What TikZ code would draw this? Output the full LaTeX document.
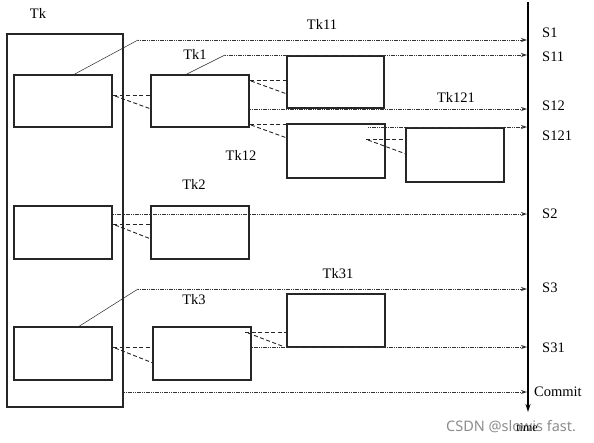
\documentclass[tikz,border=0pt]{standalone}
\usepackage{fontspec}
\setmainfont{Liberation Serif}
\newfontfamily\wmfont{Noto Sans}
\usetikzlibrary{arrows.meta}
\begin{document}
\begin{tikzpicture}[x=1pt,y=-1pt,
  box/.style={draw=black!85,line width=1.1pt},
  spawn/.style={draw=black!85,line width=0.9pt,dash pattern=on 4pt off 2.5pt},
  sync/.style={draw=black!80,line width=1pt,dash pattern=on 1.1pt off 0.7pt},
  syncarr/.style={sync,-{Stealth[length=6pt,width=4pt,fill=black!85]}},
  link/.style={draw=black!85,line width=0.5pt},
  lbl/.style={font=\fontsize{14.5}{16}\selectfont,inner sep=0pt},
  slbl/.style={lbl,anchor=west}]
\useasboundingbox (0,0) rectangle (594,442);
% outer Tk box
\draw[box] (7,34) rectangle (123,407);
\node[lbl] (tk) at (38,13) {Tk};
% inner boxes
\draw[box] (14,75) rectangle (112,127);
\draw[box] (14,206) rectangle (112,259);
\draw[box] (14,327) rectangle (112,380);
% children
\draw[box] (151,75) rectangle (249,127);
\draw[box] (151,206) rectangle (249,259);
\draw[box] (153,327) rectangle (251,380);
\draw[box] (287,56) rectangle (384,108);
\draw[box] (287,124) rectangle (385,178);
\draw[box] (406,128) rectangle (504,182);
\draw[box] (287,294) rectangle (385,347);
% time axis
\coordinate (ax0) at (528,2);
\coordinate (ax1) at (528,412);
\draw[line width=1.8pt,-{Stealth[length=8pt,width=5pt]}] (ax0) -- (ax1);
% labels
\node[lbl] (tk11) at (322,24) {Tk11};
\node[lbl] (tk1) at (195,54) {Tk1};
\node[lbl] (tk121) at (456,97) {Tk121};
\node[lbl] (tk12) at (241,155) {Tk12};
\node[lbl] (tk2) at (194,184) {Tk2};
\node[lbl] (tk31) at (338,274) {Tk31};
\node[lbl] (tk3) at (194,300) {Tk3};
\node[slbl] (s1) at (542,33) {S1};
\node[slbl] (s11) at (542,57) {S11};
\node[slbl] (s12) at (542,106) {S12};
\node[slbl] (s121) at (542,136) {S121};
\node[slbl] (s2) at (542,214) {S2};
\node[slbl] (s3) at (542,288) {S3};
\node[slbl] (s31) at (542,348) {S31};
\node[slbl] (commit) at (534,392) {Commit};
\node[lbl,font=\wmfont\fontsize{14.5}{16}\selectfont,text=black!45,anchor=west] (wm) at (446,427) {CSDN @slowis fast.};
\node[lbl,font=\fontsize{12}{14}\selectfont] (time) at (527,428) {time};
% solid links and sync arrows
\coordinate (a1) at (73,75); \coordinate (b1) at (138,40);
\draw[link] (a1) -- (b1);
\draw[syncarr] (b1) -- (527,40);
\coordinate (a11) at (185,75); \coordinate (b11) at (225,55);
\draw[link] (a11) -- (b11);
\draw[syncarr] (b11) -- (527,55);
\coordinate (c12) at (250,109);
\draw[syncarr] (c12) -- (527,109);
\coordinate (c121) at (368,127);
\draw[syncarr] (c121) -- (527,127);
\coordinate (c2) at (113,214);
\draw[syncarr] (c2) -- (527,214);
\coordinate (a3) at (78,327); \coordinate (b3) at (138,289);
\draw[link] (a3) -- (b3);
\draw[syncarr] (b3) -- (527,289);
\coordinate (c31) at (250,347);
\draw[syncarr] (c31) -- (527,347);
\coordinate (cc) at (124,392);
\draw[syncarr] (cc) -- (527,392);
% spawn dashes
\draw[spawn] (113,95) -- (151,95);
\draw[spawn] (115,96) -- (151,109);
\draw[spawn] (250,80) -- (287,80);
\draw[spawn] (251,81) -- (287,94);
\draw[spawn] (250,124) -- (287,124);
\draw[spawn] (251,125) -- (287,138);
\draw[spawn] (366,139) -- (406,139);
\draw[spawn] (368,140) -- (406,154);
\draw[spawn] (113,224) -- (151,224);
\draw[spawn] (115,225) -- (151,239);
\draw[spawn] (113,347) -- (153,347);
\draw[spawn] (115,348) -- (153,363);
\draw[spawn] (245,332) -- (287,332);
\draw[spawn] (248,333) -- (282,346);
\end{tikzpicture}
\end{document}
